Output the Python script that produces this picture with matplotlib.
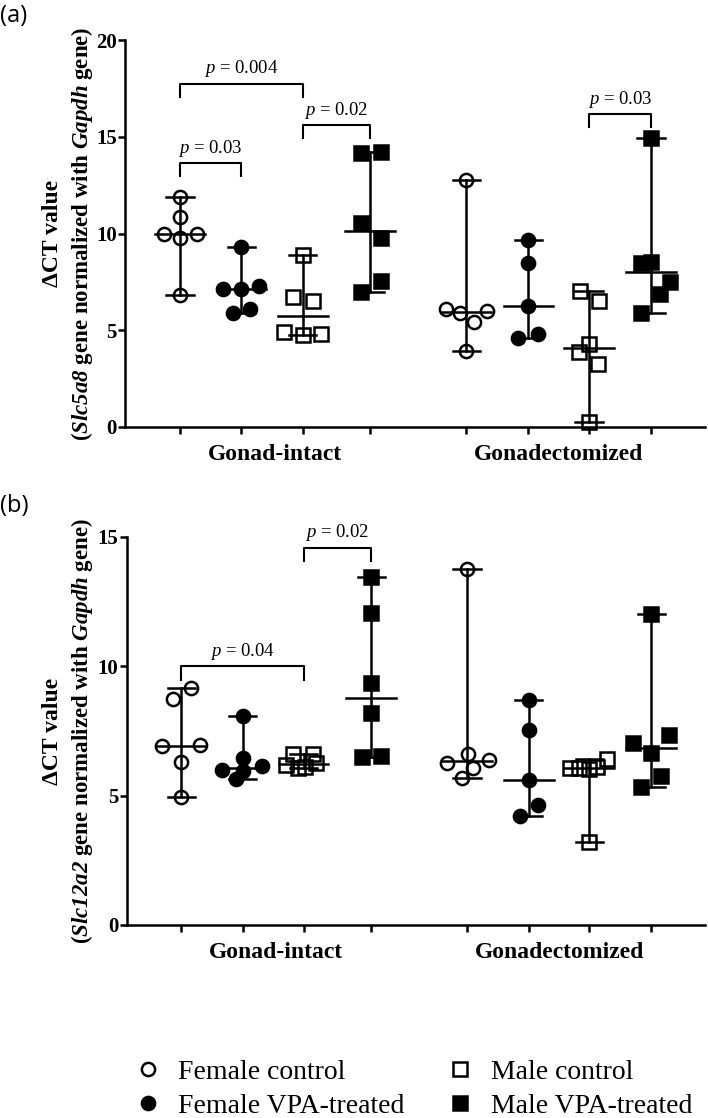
import numpy as np
import matplotlib
matplotlib.use("Agg")
import matplotlib.pyplot as plt
from matplotlib.lines import Line2D

plt.rcParams["font.family"] = "Liberation Serif"
plt.rcParams["mathtext.fontset"] = "custom"
plt.rcParams["mathtext.rm"] = "Liberation Serif"
plt.rcParams["mathtext.it"] = "Liberation Serif:italic"
plt.rcParams["mathtext.bf"] = "Liberation Serif:bold"
plt.rcParams["mathtext.bfit"] = "Liberation Serif:bold:italic"

# ---------------------------------
# data
# ---------------------------------
groupNames = ["Female control", "Female VPA-treated", "Male control", "Male VPA-treated"]
conditions = ["Gonad-intact", "Gonadectomized"]

# panel (a): Slc5a8, order = condition x group
slc5a8Values = [
    [11.9, 10.85, 9.95, 9.75, 9.95, 6.8],
    [9.29, 7.15, 7.15, 7.29, 5.9, 6.11],
    [8.87, 6.7, 6.53, 4.93, 4.75, 4.8],
    [14.14, 14.23, 10.53, 9.75, 6.98, 7.56],
    [12.76, 6.08, 5.9, 5.44, 6.01, 3.93],
    [9.66, 8.49, 6.25, 4.58, 4.79],
    [7.03, 6.53, 4.27, 3.89, 3.24, 0.27],
    [14.95, 8.49, 8.53, 7.48, 6.87, 5.91],
]
slc5a8Jitter = [
    [0, 0, -0.25, 0, 0.27, 0],
    [0, -0.29, 0, 0.29, -0.14, 0.14],
    [0, -0.16, 0.16, -0.3, 0, 0.3],
    [-0.15, 0.17, -0.15, 0.17, -0.15, 0.17],
    [0, -0.33, -0.1, 0.12, 0.33, 0],
    [0, 0, 0, -0.16, 0.15],
    [-0.15, 0.16, 0, -0.16, 0.15, 0],
    [0, -0.16, 0, 0.3, 0.15, -0.16],
]
slc5a8Pvalues = [(0, 2, 17.73, "0.004"), (0, 1, 13.63, "0.03"), (2, 3, 15.59, "0.02"), (6, 7, 16.16, "0.03")]

# panel (b): Slc12a2
slc12a2Values = [
    [9.18, 8.72, 6.92, 6.95, 6.3, 4.96],
    [8.08, 6.44, 5.99, 5.97, 6.15, 5.63],
    [6.62, 6.62, 6.2, 6.06, 6.1, 6.25],
    [13.46, 12.07, 9.34, 8.18, 6.51, 6.53],
    [13.78, 6.28, 6.6, 6.38, 6.07, 5.69],
    [8.69, 7.54, 5.61, 4.64, 4.22],
    [6.06, 6.06, 6.02, 6.1, 6.4, 3.22],
    [12.02, 7.02, 7.34, 6.64, 5.76, 5.35],
]
slc12a2Jitter = [
    [0.16, -0.14, -0.31, 0.3, 0, 0],
    [0, 0, -0.33, 0, 0.32, -0.11],
    [-0.17, 0.15, -0.28, -0.1, 0.02, 0.2],
    [0, 0, 0, 0, -0.14, 0.16],
    [0, -0.32, 0.01, 0.35, 0.1, -0.08],
    [0, 0, 0, 0.15, -0.15],
    [-0.31, -0.16, 0, 0.13, 0.28, 0],
    [0, -0.29, 0.28, 0, 0.16, -0.16],
]
slc12a2Pvalues = [(0, 2, 10.0, "0.04"), (2, 3, 14.59, "0.02")]

positions = [1, 1.99, 2.98, 4.07, 5.62, 6.62, 7.6, 8.6]
markers = ["o", "o", "s", "s"]
filled = [False, True, False, True]
lw = 1.8


def drawPanel(ax, values, jitter, pvalues, ymax, yticks):
    for i in range(len(values)):
        g = i % 4
        x = positions[i]
        v = np.array(values[i])
        xs = x + np.array(jitter[i])
        face = "black" if filled[g] else "none"
        ax.plot(xs, v, linestyle="none", marker=markers[g], markersize=9.5,
                markerfacecolor=face, markeredgecolor="black", markeredgewidth=1.8,
                clip_on=False, zorder=3)
        lo, hi, med = v.min(), v.max(), np.median(v)
        ax.plot([x, x], [lo, hi], color="black", lw=lw, zorder=4)
        ax.plot([x - 0.22, x + 0.22], [hi, hi], color="black", lw=lw, zorder=4)
        ax.plot([x - 0.22, x + 0.22], [lo, lo], color="black", lw=lw, zorder=4)
        ax.plot([x - 0.4, x + 0.4], [med, med], color="black", lw=lw, zorder=4)

    leg = ymax * 0.034
    for a, b, top, label in pvalues:
        xa, xb = positions[a], positions[b]
        ax.plot([xa, xa, xb, xb], [top - leg, top, top, top - leg], color="black", lw=1.5)
        ax.text((xa + xb) / 2, top + ymax * 0.012, "$p$ = " + label, ha="center", va="bottom",
                fontsize=13.5)

    ax.set_xlim(0.113, 9.47)
    ax.set_ylim(0, ymax)
    ax.set_yticks(yticks)
    ax.set_yticklabels([str(t) for t in yticks], fontweight="bold", fontsize=15)
    ax.set_xticks(positions)
    ax.set_xticklabels([])
    ax.spines["top"].set_visible(False)
    ax.spines["right"].set_visible(False)
    ax.spines["left"].set_linewidth(lw)
    ax.spines["bottom"].set_linewidth(lw)
    ax.tick_params(axis="both", length=5, width=lw, pad=1)
    tr = ax.get_xaxis_transform()
    ax.text((positions[0] + positions[3]) / 2, -0.072, conditions[0], transform=tr,
            ha="center", va="center", fontsize=17, fontweight="bold")
    ax.text((positions[4] + positions[7]) / 2, -0.072, conditions[1], transform=tr,
            ha="center", va="center", fontsize=17, fontweight="bold")


W, H = 708, 1118
fig = plt.figure(figsize=(W / 100, H / 100), dpi=100)

axA = fig.add_axes([125 / W, 1 - 427 / H, 580 / W, 387 / H])
drawPanel(axA, slc5a8Values, slc5a8Jitter, slc5a8Pvalues, 20, [0, 5, 10, 15, 20])

axB = fig.add_axes([126.5 / W, 1 - 925 / H, 578.5 / W, 388 / H])
drawPanel(axB, slc12a2Values, slc12a2Jitter, slc12a2Pvalues, 15, [0, 5, 10, 15])

# y labels
for centerY, gene in [((40 + 427) / 2, "Slc5a8"), ((537 + 925) / 2, "Slc12a2")]:
    fig.text(53 / W, 1 - centerY / H, "ΔCT value", rotation=90, ha="center", va="center",
             fontsize=17, fontweight="bold")
    fig.text(82 / W, 1 - centerY / H,
             "($\\mathbfit{" + gene + "}$ gene normalized with $\\mathbfit{Gapdh}$ gene)",
             rotation=90, ha="center", va="center", fontsize=16.5, fontweight="bold")

fig.text(0, 1 - 16 / H, "(a)", family="Open Sans", fontsize=17, va="center", ha="left")
fig.text(0, 1 - 506 / H, "(b)", family="Open Sans", fontsize=17, va="center", ha="left")

handles = []
for g in range(4):
    handles.append(Line2D([], [], linestyle="none", marker=markers[g], markersize=9.5,
                          markerfacecolor="black" if filled[g] else "none",
                          markeredgecolor="black", markeredgewidth=1.8, label=groupNames[g]))
fig.legend(handles=handles, loc="center", bbox_to_anchor=(413 / W, 1 - 1089 / H), ncol=2,
           frameon=False, fontsize=20, handlelength=1.0, handletextpad=0.6,
           columnspacing=1.5, labelspacing=0.3, borderpad=0)

fig.savefig("out.png", dpi=100)
